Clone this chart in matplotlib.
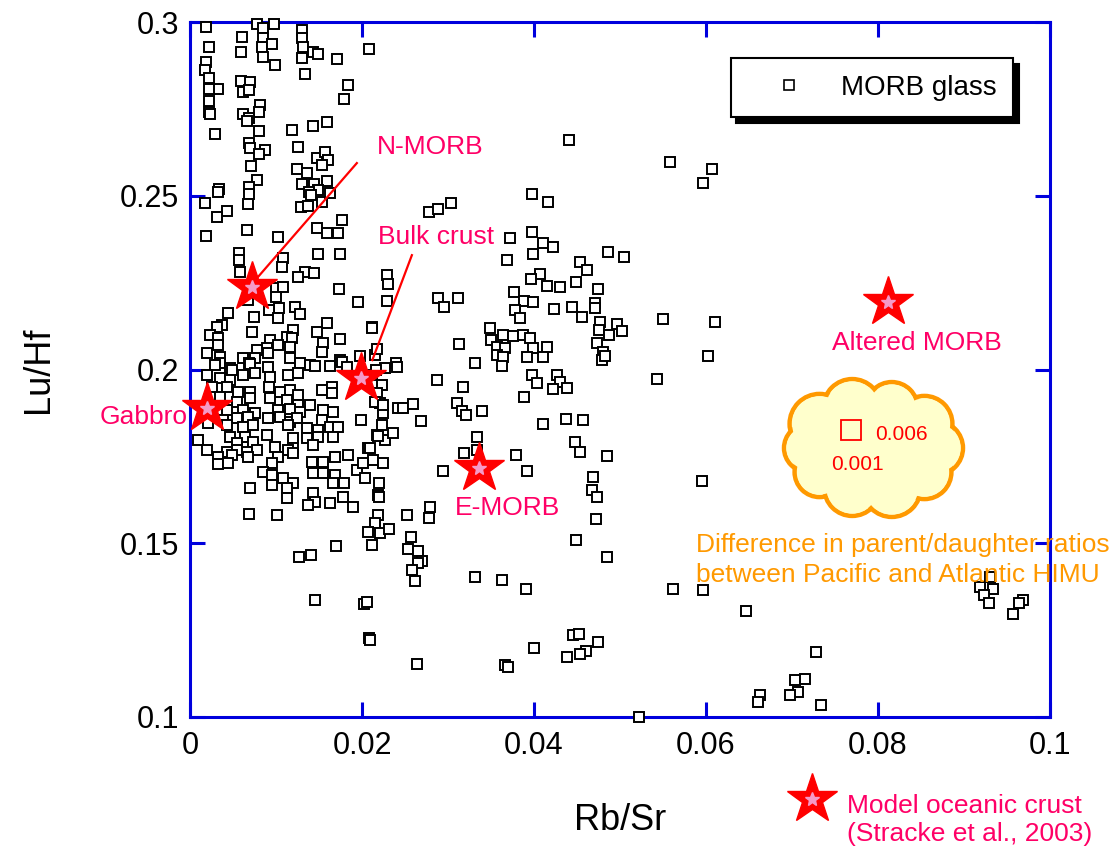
import matplotlib
matplotlib.use("Agg")
import matplotlib.pyplot as plt
from matplotlib.patches import Ellipse
from matplotlib.lines import Line2D
import numpy as np

plt.rcParams['font.family'] = ['Liberation Sans', 'DejaVu Sans']

BLUE = '#0000DD'
LABEL_PINK = '#FF0066'
ORANGE = '#FF9900'
CLOUD_FILL = '#FFFFCC'

# MORB glass compilation (Rb/Sr vs Lu/Hf)
rb_sr = [
    # high Lu/Hf, low Rb/Sr
    0.0019, 0.0078, 0.0085, 0.0098, 0.0022, 0.0060, 0.0085, 0.0130, 0.0130, 0.0131,
    0.0084, 0.0095, 0.0059, 0.0085, 0.0130, 0.0143, 0.0149, 0.0171, 0.0208, 0.0019,
    0.0017, 0.0022, 0.0099, 0.0134, 0.0059, 0.0070, 0.0062, 0.0069, 0.0033, 0.0022,
    0.0184, 0.0179, 0.0022, 0.0022, 0.0023, 0.0081, 0.0080, 0.0062, 0.0069, 0.0066,
    0.0029, 0.0080, 0.0119, 0.0143, 0.0159, 0.0069, 0.0070, 0.0087, 0.0080, 0.0126,
    0.0148, 0.0157, 0.0160, 0.0153, 0.0071, 0.0124, 0.0136, 0.0078, 0.0069, 0.0034,
    0.0130, 0.0144, 0.0159, 0.0149, 0.0138,
    # 0.20 - 0.25
    0.0033, 0.0069, 0.0067, 0.0017, 0.0043, 0.0031, 0.0141, 0.0129, 0.0137, 0.0153,
    0.0163, 0.0177, 0.0148, 0.0159, 0.0172, 0.0019, 0.0066, 0.0102, 0.0057, 0.0057,
    0.0058, 0.0149, 0.0174, 0.0108, 0.0107, 0.0134, 0.0144, 0.0126, 0.0229, 0.0230,
    0.0100, 0.0108, 0.0100, 0.0173, 0.0067, 0.0195, 0.0229, 0.0044, 0.0103, 0.0122,
    0.0128, 0.0092, 0.0074, 0.0102, 0.0037, 0.0031, 0.0159, 0.0212, 0.0072, 0.0120,
    0.0148, 0.0113, 0.0119, 0.0023, 0.0033, 0.0033, 0.0020, 0.0174, 0.0155, 0.0153,
    0.0093, 0.0102, 0.0090, 0.0116, 0.0078, 0.0091, 0.0062, 0.0076, 0.0035, 0.0035,
    0.0116, 0.0128, 0.0140, 0.0174, 0.0198, 0.0215, 0.0069, 0.0047,
    # 0.15 - 0.20
    0.0029, 0.0049, 0.0070, 0.0091, 0.0145, 0.0163, 0.0177, 0.0183, 0.0020, 0.0035,
    0.0047, 0.0062, 0.0076, 0.0093, 0.0114, 0.0126, 0.0026, 0.0043, 0.0056, 0.0070,
    0.0092, 0.0105, 0.0116, 0.0126, 0.0153, 0.0165, 0.0165, 0.0223, 0.0217, 0.0212,
    0.0035, 0.0055, 0.0070, 0.0093, 0.0113, 0.0126, 0.0140, 0.0043, 0.0062, 0.0076,
    0.0102, 0.0116, 0.0128, 0.0155, 0.0166, 0.0153, 0.0221, 0.0224, 0.0038, 0.0055,
    0.0067, 0.0091, 0.0105, 0.0116, 0.0124, 0.0199, 0.0021, 0.0043, 0.0062, 0.0073,
    0.0114, 0.0136, 0.0149, 0.0163, 0.0172, 0.0223, 0.0217, 0.0047, 0.0064, 0.0090,
    0.0120, 0.0136, 0.0149, 0.0166, 0.0009, 0.0055, 0.0073, 0.0099, 0.0120, 0.0143,
    0.0227, 0.0020, 0.0043, 0.0055, 0.0066, 0.0078, 0.0114, 0.0207, 0.0033, 0.0049,
    0.0067, 0.0102, 0.0120, 0.0169, 0.0184, 0.0033, 0.0044, 0.0095, 0.0142, 0.0155,
    0.0213, 0.0224, 0.0085, 0.0143, 0.0155, 0.0169, 0.0194, 0.0203, 0.0095, 0.0108,
    0.0095, 0.0120, 0.0166, 0.0179, 0.0220, 0.0070, 0.0113, 0.0113, 0.0143, 0.0145,
    0.0163, 0.0178, 0.0219, 0.0137, 0.0190, 0.0069, 0.0101, 0.0219, 0.0215, 0.0207,
    0.0221,
    # low Lu/Hf tail
    0.0127, 0.0141, 0.0170, 0.0145, 0.0202, 0.0206, 0.0208, 0.0209, 0.0212,
    # Rb/Sr 0.02 - 0.05, upper group
    0.0441, 0.0398, 0.0416, 0.0278, 0.0288, 0.0303, 0.0372, 0.0398, 0.0410, 0.0422,
    0.0369, 0.0399, 0.0486, 0.0453, 0.0462, 0.0407, 0.0397, 0.0415, 0.0430, 0.0449,
    0.0288, 0.0295, 0.0312, 0.0377, 0.0388, 0.0399, 0.0474, 0.0423, 0.0444, 0.0456,
    0.0471, 0.0471, 0.0378, 0.0384, 0.0212, 0.0477, 0.0476, 0.0349, 0.0364, 0.0376,
    0.0387, 0.0395, 0.0350, 0.0357, 0.0366, 0.0399, 0.0415, 0.0392, 0.0410, 0.0313,
    0.0473, 0.0480, 0.0479, 0.0217, 0.0240, 0.0331,
    # Rb/Sr 0.02 - 0.05, lower group
    0.0357, 0.0364, 0.0363, 0.0241, 0.0227, 0.0216, 0.0287, 0.0317, 0.0398, 0.0403,
    0.0427, 0.0430, 0.0422, 0.0438, 0.0388, 0.0215, 0.0224, 0.0242, 0.0248, 0.0259,
    0.0310, 0.0316, 0.0321, 0.0340, 0.0269, 0.0410, 0.0437, 0.0457, 0.0219, 0.0236,
    0.0334, 0.0448, 0.0453, 0.0209, 0.0201, 0.0319, 0.0334, 0.0379, 0.0392, 0.0294,
    0.0485, 0.0220, 0.0469, 0.0467, 0.0473, 0.0252, 0.0279, 0.0278, 0.0231, 0.0472,
    0.0257, 0.0253, 0.0265, 0.0270, 0.0265, 0.0258, 0.0262, 0.0449, 0.0485, 0.0331,
    0.0363, 0.0391, 0.0445, 0.0452, 0.0474, 0.0460, 0.0453, 0.0438, 0.0400, 0.0264,
    0.0366, 0.0370,
    # Rb/Sr 0.05 - 0.06
    0.0558, 0.0607, 0.0597, 0.0505, 0.0497, 0.0502, 0.0487, 0.0483, 0.0550, 0.0610,
    0.0602,
    # high Rb/Sr
    0.0543, 0.0595, 0.0562, 0.0597, 0.0647, 0.0728, 0.0703, 0.0715, 0.0707, 0.0698,
    0.0663, 0.0660, 0.0734, 0.0522, 0.0930, 0.0919, 0.0934, 0.0923, 0.0929, 0.0969,
    0.0964, 0.0957,
]
lu_hf = [
    0.2986, 0.2994, 0.2983, 0.2994, 0.2928, 0.2957, 0.2954, 0.2977, 0.2954, 0.2928,
    0.2928, 0.2937, 0.2914, 0.2899, 0.2896, 0.2914, 0.2908, 0.2894, 0.2922, 0.2885,
    0.2862, 0.2839, 0.2876, 0.2850, 0.2830, 0.2827, 0.2799, 0.2804, 0.2807, 0.2807,
    0.2819, 0.2778, 0.2773, 0.2741, 0.2735, 0.2761, 0.2741, 0.2735, 0.2724, 0.2715,
    0.2678, 0.2686, 0.2689, 0.2701, 0.2712, 0.2652, 0.2637, 0.2632, 0.2620, 0.2640,
    0.2609, 0.2626, 0.2603, 0.2588, 0.2586, 0.2577, 0.2565, 0.2545, 0.2525, 0.2519,
    0.2534, 0.2534, 0.2542, 0.2517, 0.2511,

    0.2511, 0.2505, 0.2476, 0.2479, 0.2456, 0.2439, 0.2502, 0.2468, 0.2470, 0.2482,
    0.2508, 0.2430, 0.2407, 0.2393, 0.2393, 0.2384, 0.2401, 0.2381, 0.2335, 0.2315,
    0.2281, 0.2332, 0.2332, 0.2321, 0.2295, 0.2281, 0.2278, 0.2266, 0.2272, 0.2246,
    0.2234, 0.2237, 0.2209, 0.2232, 0.2200, 0.2194, 0.2197, 0.2163, 0.2177, 0.2180,
    0.2160, 0.2171, 0.2151, 0.2148, 0.2128, 0.2122, 0.2134, 0.2122, 0.2108, 0.2114,
    0.2108, 0.2093, 0.2091, 0.2099, 0.2091, 0.2070, 0.2047, 0.2088, 0.2076, 0.2050,
    0.2085, 0.2070, 0.2062, 0.2065, 0.2056, 0.2047, 0.2033, 0.2033, 0.2036, 0.2019,
    0.2033, 0.2019, 0.2013, 0.2027, 0.2039, 0.2042, 0.2019, 0.2004,

    0.2013, 0.1999, 0.2016, 0.2007, 0.2010, 0.2010, 0.2022, 0.2007, 0.1984, 0.1975,
    0.1970, 0.1984, 0.1990, 0.1978, 0.1984, 0.1990, 0.1950, 0.1950, 0.1935, 0.1935,
    0.1950, 0.1935, 0.1941, 0.1927, 0.1941, 0.1950, 0.1932, 0.1955, 0.1932, 0.1984,
    0.1921, 0.1906, 0.1918, 0.1918, 0.1912, 0.1898, 0.1898, 0.1883, 0.1883, 0.1875,
    0.1883, 0.1886, 0.1878, 0.1883, 0.1878, 0.1855, 0.1904, 0.1875, 0.1855, 0.1860,
    0.1863, 0.1860, 0.1863, 0.1849, 0.1860, 0.1855, 0.1846, 0.1840, 0.1834, 0.1840,
    0.1840, 0.1832, 0.1826, 0.1834, 0.1834, 0.1840, 0.1811, 0.1806, 0.1806, 0.1811,
    0.1803, 0.1803, 0.1806, 0.1806, 0.1797, 0.1788, 0.1791, 0.1777, 0.1774, 0.1783,
    0.1797, 0.1768, 0.1763, 0.1768, 0.1763, 0.1768, 0.1768, 0.1774, 0.1748, 0.1754,
    0.1748, 0.1748, 0.1760, 0.1748, 0.1754, 0.1728, 0.1731, 0.1731, 0.1734, 0.1734,
    0.1739, 0.1731, 0.1705, 0.1702, 0.1702, 0.1696, 0.1711, 0.1688, 0.1696, 0.1688,
    0.1668, 0.1673, 0.1673, 0.1673, 0.1673, 0.1659, 0.1659, 0.1630, 0.1645, 0.1619,
    0.1616, 0.1633, 0.1639, 0.1610, 0.1604, 0.1584, 0.1581, 0.1581, 0.1558, 0.1532,
    0.1529,

    0.1460, 0.1466, 0.1492, 0.1337, 0.1325, 0.1331, 0.1227, 0.1221, 0.1495,

    0.2660, 0.2505, 0.2482, 0.2453, 0.2462, 0.2479, 0.2378, 0.2396, 0.2364, 0.2353,
    0.2315, 0.2332, 0.2338, 0.2309, 0.2286, 0.2275, 0.2260, 0.2240, 0.2237, 0.2252,
    0.2206, 0.2180, 0.2206, 0.2223, 0.2197, 0.2194, 0.2232, 0.2174, 0.2180, 0.2151,
    0.2191, 0.2177, 0.2171, 0.2148, 0.2119, 0.2137, 0.2114, 0.2119, 0.2099, 0.2096,
    0.2099, 0.2091, 0.2085, 0.2065, 0.2062, 0.2062, 0.2065, 0.2036, 0.2036, 0.2073,
    0.2076, 0.2050, 0.2027, 0.2059, 0.2019, 0.2019,

    0.2042, 0.2036, 0.2010, 0.2007, 0.2004, 0.1999, 0.1970, 0.1950, 0.1984, 0.1961,
    0.1984, 0.1964, 0.1944, 0.1947, 0.1921, 0.1906, 0.1898, 0.1889, 0.1889, 0.1901,
    0.1904, 0.1881, 0.1869, 0.1881, 0.1852, 0.1843, 0.1858, 0.1855, 0.1809, 0.1817,
    0.1806, 0.1791, 0.1763, 0.1774, 0.1731, 0.1760, 0.1768, 0.1754, 0.1708, 0.1708,
    0.1751, 0.1633, 0.1691, 0.1653, 0.1633, 0.1581, 0.1604, 0.1573, 0.1540, 0.1570,
    0.1518, 0.1483, 0.1478, 0.1449, 0.1443, 0.1423, 0.1391, 0.1509, 0.1460, 0.1403,
    0.1394, 0.1368, 0.1236, 0.1239, 0.1216, 0.1190, 0.1181, 0.1172, 0.1198, 0.1152,
    0.1150, 0.1144,

    0.2597, 0.2577, 0.2537, 0.2324, 0.2131, 0.2111, 0.2099, 0.2039, 0.2145, 0.2137,
    0.2039,

    0.1973, 0.1679, 0.1368, 0.1365, 0.1305, 0.1187, 0.1106, 0.1109, 0.1072, 0.1063,
    0.1063, 0.1043, 0.1034, 0.1000, 0.1403, 0.1374, 0.1368, 0.1351, 0.1328, 0.1337,
    0.1328, 0.1296,
]

# Model oceanic crust components (Stracke et al., 2003)
crust_names = ['N-MORB', 'Bulk crust', 'Gabbro', 'E-MORB', 'Altered MORB']
crust_rb_sr = [0.0072, 0.0199, 0.0020, 0.0336, 0.0812]
crust_lu_hf = [0.2237, 0.1976, 0.1890, 0.1717, 0.2194]

xticks = [0, 0.02, 0.04, 0.06, 0.08, 0.1]
xtick_labels = ['0', '0.02', '0.04', '0.06', '0.08', '0.1']
yticks = [0.1, 0.15, 0.2, 0.25, 0.3]
ytick_labels = ['0.1', '0.15', '0.2', '0.25', '0.3']

fig = plt.figure(figsize=(11.12, 8.49), dpi=100)
ax = fig.add_axes([190 / 1112, 132 / 849, 860 / 1112, 695 / 849])

ax.plot(rb_sr, lu_hf, ls='none', marker='s', ms=7.5, mfc='white', mec='black',
        mew=1.4, clip_on=False, zorder=3)

# stars for the model crust
STAR_MS, STAR_IN = 38, 10
ax.plot(crust_rb_sr, crust_lu_hf, ls='none', marker='*', ms=STAR_MS, color='red',
        mec='red', clip_on=False, zorder=4)
ax.plot(crust_rb_sr, crust_lu_hf, ls='none', marker='*', ms=STAR_IN, color='#F59AC8',
        mec='#F59AC8', clip_on=False, zorder=5)

# labels and leader lines
ax.plot([0.0194, 0.0073], [0.2594, 0.2249], color='red', lw=1.6, zorder=4)
ax.plot([0.0258, 0.0212], [0.2329, 0.2027], color='red', lw=1.6, zorder=4)
lab_kw = dict(color=LABEL_PINK, fontsize=19, va='center')
ax.text(0.0217, 0.2640, crust_names[0], ha='left', **lab_kw)
ax.text(0.0219, 0.2381, crust_names[1], ha='left', **lab_kw)
ax.text(-0.0003, 0.1863, crust_names[2], ha='right', **lab_kw)
ax.text(0.0308, 0.1601, crust_names[3], ha='left', **lab_kw)
ax.text(0.0747, 0.2076, crust_names[4], ha='left', **lab_kw)

# cloud callout
cx, cy = (872 - 190) / 860, (717 - 448) / 695
a_px, b_px = 64, 42
ax_w, ax_h = 860, 695
angles = np.deg2rad([0, 35, 72, 108, 145, 180, 215, 252, 288, 325])
radii = [27, 28, 26, 29, 30, 24, 25, 28, 29, 27]
for t, r in zip(angles, radii):
    ex = cx + a_px * np.cos(t) / ax_w
    ey = cy + b_px * np.sin(t) / ax_h
    ax.add_patch(Ellipse((ex, ey), 2 * r / ax_w, 2 * r / ax_h, transform=ax.transAxes,
                         fc=CLOUD_FILL, ec=ORANGE, lw=3.2, zorder=6))
for t, r in zip(angles, radii):
    ex = cx + a_px * np.cos(t) / ax_w
    ey = cy + b_px * np.sin(t) / ax_h
    ax.add_patch(Ellipse((ex, ey), 2 * (r - 2.5) / ax_w, 2 * (r - 2.5) / ax_h,
                         transform=ax.transAxes, fc=CLOUD_FILL, ec='none', zorder=7))
ax.add_patch(Ellipse((cx, cy), 2 * a_px / ax_w, 2 * b_px / ax_h, transform=ax.transAxes,
                     fc=CLOUD_FILL, ec='none', zorder=7))
ax.plot([0.0769], [0.1826], ls='none', marker='s', ms=14, mfc='none', mec='red',
        mew=1.3, zorder=8)
ax.text(0.0797, 0.1814, '0.006', color='red', fontsize=15, va='center', zorder=8)
ax.text(0.0745, 0.1728, '0.001', color='red', fontsize=15, va='center', zorder=8)

ax.text(0.0588, 0.1452, 'Difference in parent/daughter ratios\nbetween Pacific and Atlantic HIMU',
        color=ORANGE, fontsize=19, va='center', ha='left', linespacing=1.3, zorder=8)

ax.set_xlim(0, 0.1)
ax.set_ylim(0.1, 0.3)
ax.set_xticks(xticks)
ax.set_xticklabels(xtick_labels)
ax.set_yticks(yticks)
ax.set_yticklabels(ytick_labels)
ax.tick_params(direction='in', length=11, width=2.2, color=BLUE, labelsize=22,
               top=True, right=True)
ax.tick_params(axis='x', pad=10)
ax.tick_params(axis='y', pad=8)
for sp in ax.spines.values():
    sp.set_color(BLUE)
    sp.set_linewidth(2.2)

ax.set_xlabel('Rb/Sr', fontsize=26, labelpad=30)
ax.set_ylabel('Lu/Hf', fontsize=26, labelpad=46)

handle = Line2D([], [], ls='none', marker='s', ms=7.5, mfc='white', mec='black', mew=1.2)
leg = ax.legend([handle], ['MORB glass'], loc='upper right', bbox_to_anchor=(0.957, 0.948),
                borderaxespad=0, fontsize=20, fancybox=False, edgecolor='black',
                framealpha=1, borderpad=0.6, handlelength=3.0, handletextpad=0.36,
                shadow={'color': 'black', 'alpha': 1, 'ox': 4, 'oy': -4})
leg.get_frame().set_linewidth(1.5)
leg.set_zorder(10)

# key for the star symbols below the plot
fig.add_artist(Line2D([812 / 1112], [1 - 799 / 849], ls='none', marker='*', ms=STAR_MS,
                      color='red', transform=fig.transFigure))
fig.add_artist(Line2D([812 / 1112], [1 - 799 / 849], ls='none', marker='*', ms=STAR_IN,
                      color='#F59AC8', transform=fig.transFigure))
fig.text(847 / 1112, 1 - 820 / 849, 'Model oceanic crust\n(Stracke et al., 2003)',
         color=LABEL_PINK, fontsize=19, va='center', ha='left', linespacing=1.25)

fig.savefig('out.png', dpi=100)
